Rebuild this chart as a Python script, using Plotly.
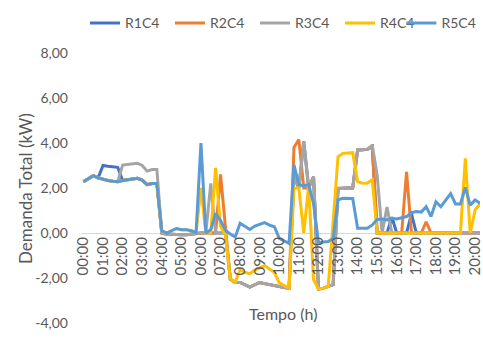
import plotly.graph_objects as go

# 15-minute time grid, 00:00 .. 20:15
tempo = [f"{m // 60:02d}:{m % 60:02d}" for m in range(0, 20 * 60 + 16, 15)]
horas = [int(t[:2]) + int(t[3:]) / 60 for t in tempo]

r5c4 = [2.28, 2.40, 2.55, 2.45, 2.38, 2.33, 2.30, 2.28, 2.33, 2.37, 2.40, 2.43,
        2.35, 2.15, 2.20, 2.20, 0.10, 0.00, 0.10, 0.20, 0.15, 0.15, 0.10, 0.02,
        4.00, 0.00, 0.15, 0.87, 0.55, 0.13, -0.05, -0.18, 0.43, 0.28, 0.16, 0.31,
        0.38, 0.46, 0.35, 0.28, -0.24, -0.35, -0.46, 3.03, 2.15, 2.10, 2.15, 1.30,
        -0.42, -0.40, -0.38, -0.24, 1.47, 1.54, 1.53, 1.53, 0.21, 0.22, 0.21, 0.36,
        0.60, 0.62, 0.58, 0.65, 0.62, 0.68, 0.73, 0.90, 0.95, 0.93, 1.17, 0.73,
        1.39, 1.17, 1.45, 1.75, 1.29, 1.29, 2.03, 1.24, 1.47, 1.32]

r4c4 = [2.28, 2.40, 2.55, 2.45, 2.38, 2.33, 2.30, 2.28, 2.33, 2.37, 2.40, 2.43,
        2.35, 2.15, 2.20, 2.20, 0.10, 0.00, 0.10, 0.20, 0.15, 0.15, 0.10, 0.02,
        2.00, 0.00, 0.00, 2.90, 0.30, -0.10, -2.05, -2.18, -1.63, -1.75, -1.81, -1.65,
        -1.55, -1.45, -1.60, -1.75, -2.22, -2.35, -2.45, 2.00, 2.00, 0.00, 2.07, -2.07,
        -2.49, -2.45, -2.37, 0.50, 3.39, 3.54, 3.55, 3.57, 2.28, 2.21, 2.22, 2.36,
        0.00, 0.00, 0.00, 0.00, 0.00, 0.00, 0.00, 0.00, 0.00, 0.00, 0.00, 0.00,
        0.00, 0.00, 0.00, 0.00, 0.00, 0.00, 3.32, 0.00, 1.02, 1.30]

r3c4 = [2.28, 2.40, 2.55, 2.45, 2.38, 2.33, 2.30, 2.28, 3.02, 3.05, 3.08, 3.10,
        3.00, 2.75, 2.82, 2.82, 0.00, -0.05, -0.05, -0.08, -0.08, -0.08, -0.05, -0.05,
        0.00, 0.00, 2.20, 0.00, 0.00, 0.00, -2.05, -2.20, -2.20, -2.30, -2.40, -2.30,
        -2.20, -2.25, -2.30, -2.35, -2.40, -2.42, -2.45, 2.50, 2.00, 4.07, 2.00, 2.50,
        -2.49, -2.45, -2.37, -2.30, 1.98, 2.00, 2.00, 2.00, 3.69, 3.70, 3.72, 3.91,
        2.55, 0.00, 1.15, 0.00, 0.00, 0.00, 0.00, 0.00, 0.00, 0.00, 0.00, 0.00,
        0.00, 0.00, 0.00, 0.00, 0.00, 0.00, 0.00, 0.00, 0.00, 0.00]

r2c4 = [2.28, 2.40, 2.55, 2.45, 2.38, 2.33, 2.30, 2.28, 2.33, 2.37, 2.40, 2.43,
        2.35, 2.15, 2.20, 2.20, 0.00, -0.05, -0.05, -0.08, -0.08, -0.08, -0.05, -0.05,
        0.00, 0.00, 0.00, 0.00, 2.60, 0.30, -2.05, -2.20, -2.20, -2.30, -2.40, -2.30,
        -2.20, -2.25, -2.30, -2.35, -2.40, -2.42, -2.45, 3.80, 4.15, 2.00, 2.00, 2.50,
        -2.49, -2.45, -2.37, -2.30, 1.98, 2.00, 2.00, 2.00, 3.69, 3.70, 3.72, 3.85,
        0.00, 0.00, 0.00, 0.00, 0.00, 0.00, 2.72, 0.00, 0.00, 0.00, 0.50, 0.00,
        0.00, 0.00, 0.00, 0.00, 0.00, 0.00, 0.00, 0.00, 0.00, 0.00]

r1c4 = [2.28, 2.40, 2.55, 2.45, 3.00, 2.97, 2.95, 2.92, 2.33, 2.37, 2.40, 2.43,
        2.35, 2.15, 2.20, 2.20, 0.00, -0.05, -0.05, -0.08, -0.08, -0.08, -0.05, -0.05,
        0.00, 0.00, 0.00, 0.00, 0.00, 0.00, -2.05, -2.20, -2.20, -2.30, -2.40, -2.30,
        -2.20, -2.25, -2.30, -2.35, -2.40, -2.42, -2.45, 2.50, 2.00, 4.07, 2.00, 2.50,
        -2.49, -2.45, -2.37, -2.30, 1.98, 2.00, 2.00, 2.00, 3.69, 3.70, 3.72, 3.85,
        0.00, 0.00, 0.00, 0.70, 0.00, 0.00, 0.00, 0.85, 0.00, 0.00, 0.00, 0.00,
        0.00, 0.00, 0.00, 0.00, 0.00, 0.00, 0.00, 0.00, 0.00, 0.00]

series = [("R1C4", r1c4, "#4472C4"),
          ("R2C4", r2c4, "#ED7D31"),
          ("R3C4", r3c4, "#A5A5A5"),
          ("R4C4", r4c4, "#FFC000"),
          ("R5C4", r5c4, "#5B9BD5")]

hour_ticks = list(range(0, 21))
hour_labels = [f"{h:02d}:00" for h in hour_ticks]
y_ticks = [-4, -2, 0, 2, 4, 6, 8]
y_labels = [f"{v:.2f}".replace(".", ",") for v in y_ticks]

FONT = "Lato"
GREY = "#595959"
LEG_FONT = dict(family=FONT, size=14, color=GREY)

fig = go.Figure()
for i, (name, vals, color) in enumerate(series):
    # the last entry sits in its own legend box so the row keeps its spacing
    fig.add_trace(go.Scatter(x=horas, y=vals, name=name, mode="lines",
                             line=dict(color=color, width=3),
                             legend="legend2" if i == len(series) - 1 else "legend"))

fig.update_layout(
    width=483, height=352,
    margin=dict(l=80.5, r=0, t=53, b=29),
    paper_bgcolor="white", plot_bgcolor="white",
    font=dict(family=FONT, size=13, color=GREY),
    showlegend=True,
    legend=dict(orientation="h", x=0.01, xanchor="left", y=1.11, yanchor="middle",
                font=LEG_FONT, entrywidth=40, entrywidthmode="pixels",
                bgcolor="rgba(0,0,0,0)", traceorder="normal"),
    legend2=dict(orientation="h", x=0.803, xanchor="left", y=1.11, yanchor="middle",
                 font=LEG_FONT, bgcolor="rgba(0,0,0,0)"),
    xaxis=dict(range=[-0.125, 20.25], tickvals=hour_ticks, ticktext=hour_labels,
               tickangle=-90, showgrid=False, zeroline=False, showline=False,
               ticks="", anchor="free", position=1 / 3, ticklabeloverflow="allow",
               tickfont=dict(family=FONT, size=15, color=GREY)),
    yaxis=dict(range=[-4, 8], tickvals=y_ticks, ticktext=y_labels,
               showgrid=False, zeroline=True, zerolinecolor="#D9D9D9", zerolinewidth=1,
               showline=False, ticks="", ticklabelstandoff=12,
               tickfont=dict(family=FONT, size=14, color=GREY)),
    annotations=[
        dict(text="Demanda Total (kW)", xref="paper", yref="paper",
             x=(24 - 80.5) / 402.5, y=0.5, textangle=-90, showarrow=False,
             xanchor="center", yanchor="middle",
             font=dict(family=FONT, size=17, color=GREY)),
        dict(text="Tempo (h)", xref="paper", yref="paper",
             x=(284 - 80.5) / 402.5, y=(323 - 313) / 270, showarrow=False,
             xanchor="center", yanchor="middle",
             font=dict(family=FONT, size=16, color=GREY)),
    ],
)

fig.write_html("out.html")
